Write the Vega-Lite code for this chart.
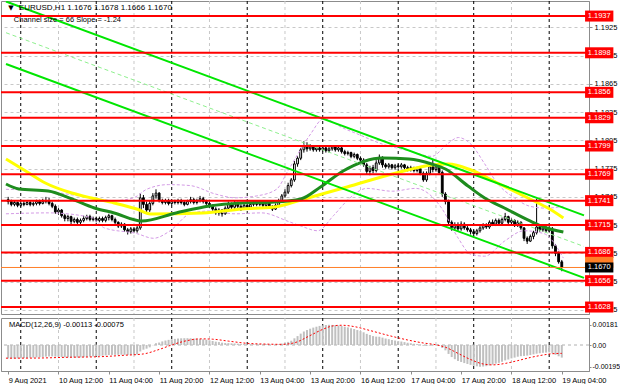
{
"$schema":"https://vega.github.io/schema/vega-lite/v6.json",
"padding":0,
"autosize":{"type":"pad"},
"background":"white",
"spacing":4,
"bounds":"flush",
"config":{"view":{"stroke":"#8c8c8c","strokeWidth":1},"font":"Liberation Sans","text":{"font":"Liberation Sans"}},
"datasets":{
"one":[{"n":1}],
"days":[{"i":0},{"i":24},{"i":48},{"i":72},{"i":96},{"i":120},{"i":144},{"i":168}],
"half":[{"i":12},{"i":36},{"i":60},{"i":84},{"i":108},{"i":132},{"i":156}],
"levels":[{"p":1.1937},{"p":1.1898},{"p":1.1856},{"p":1.1829},{"p":1.1799},{"p":1.1769},{"p":1.1741},{"p":1.1715},{"p":1.1686},{"p":1.1656},{"p":1.1628}],
"chan":[{"k":"up","i":-4.6875,"p":1.19525},{"k":"up","i":179.0625,"p":1.17254},{"k":"lo","i":-4.6875,"p":1.18861},{"k":"lo","i":179.0625,"p":1.1659}],
"chanmid":[{"i":-4.6875,"p":1.19193},{"i":179.0625,"p":1.16923}],
"maY":[{"i":-4.69,"p":1.17852},{"i":1.56,"p":1.17725},{"i":7.81,"p":1.17597},{"i":16.25,"p":1.17491},{"i":22.5,"p":1.17438},{"i":29.69,"p":1.17385},{"i":36.88,"p":1.17321},{"i":41.25,"p":1.17268},{"i":57.81,"p":1.17279},{"i":70.31,"p":1.17321},{"i":80.63,"p":1.17342},{"i":89.06,"p":1.17417},{"i":103.75,"p":1.17555},{"i":119.38,"p":1.17703},{"i":130.63,"p":1.17788},{"i":135.94,"p":1.17799},{"i":143.13,"p":1.17735},{"i":151.56,"p":1.17597},{"i":161.88,"p":1.17427},{"i":168.13,"p":1.17321},{"i":172.5,"p":1.17226}],
"maG":[{"i":-4.69,"p":1.17587},{"i":-0.63,"p":1.17534},{"i":8.75,"p":1.17512},{"i":16.25,"p":1.17427},{"i":23.44,"p":1.17332},{"i":29.69,"p":1.17279},{"i":38.44,"p":1.17194},{"i":49.38,"p":1.17279},{"i":60,"p":1.17353},{"i":70.31,"p":1.17385},{"i":80.63,"p":1.17395},{"i":89.06,"p":1.17427},{"i":95.31,"p":1.17555},{"i":102.5,"p":1.17725},{"i":115,"p":1.17863},{"i":123.44,"p":1.17852},{"i":130.63,"p":1.17799},{"i":135,"p":1.17746},{"i":142.19,"p":1.17565},{"i":147.5,"p":1.17438},{"i":153.75,"p":1.17332},{"i":161.88,"p":1.17194},{"i":166.25,"p":1.1713},{"i":172.5,"p":1.17077}],
"bb":[{"k":"u","i":-4.7,"p":1.1753},{"k":"u","i":7.8,"p":1.1751},{"k":"u","i":22.5,"p":1.1744},{"k":"u","i":29.7,"p":1.1741},{"k":"u","i":35.9,"p":1.1744},{"k":"u","i":40,"p":1.1753},{"k":"u","i":46.9,"p":1.1758},{"k":"u","i":53.8,"p":1.1757},{"k":"u","i":61.9,"p":1.1748},{"k":"u","i":68.1,"p":1.1744},{"k":"u","i":75,"p":1.1746},{"k":"u","i":81.3,"p":1.1753},{"k":"u","i":85,"p":1.1773},{"k":"u","i":89.1,"p":1.1796},{"k":"u","i":92.2,"p":1.1812},{"k":"u","i":96.3,"p":1.1828},{"k":"u","i":102.5,"p":1.1818},{"k":"u","i":106.9,"p":1.1812},{"k":"u","i":115,"p":1.1801},{"k":"u","i":123.4,"p":1.1794},{"k":"u","i":130.6,"p":1.1788},{"k":"u","i":135.9,"p":1.1802},{"k":"u","i":139.1,"p":1.1808},{"k":"u","i":143.1,"p":1.1801},{"k":"u","i":147.5,"p":1.178},{"k":"u","i":151.6,"p":1.1759},{"k":"u","i":156.9,"p":1.1744},{"k":"u","i":161.9,"p":1.1735},{"k":"u","i":167.2,"p":1.1733},{"k":"u","i":172.5,"p":1.1735},
{"k":"l","i":-4.7,"p":1.1727},{"k":"l","i":8.8,"p":1.1728},{"k":"l","i":22.5,"p":1.1723},{"k":"l","i":26.6,"p":1.1712},{"k":"l","i":36.9,"p":1.1706},{"k":"l","i":42.2,"p":1.1701},{"k":"l","i":47.5,"p":1.1709},{"k":"l","i":53.8,"p":1.1727},{"k":"l","i":60,"p":1.173},{"k":"l","i":68.1,"p":1.1727},{"k":"l","i":76.6,"p":1.1728},{"k":"l","i":85,"p":1.1719},{"k":"l","i":89.1,"p":1.1714},{"k":"l","i":94.4,"p":1.1709},{"k":"l","i":99.4,"p":1.1725},{"k":"l","i":104.7,"p":1.1744},{"k":"l","i":110,"p":1.1754},{"k":"l","i":118.1,"p":1.1751},{"k":"l","i":125.6,"p":1.1754},{"k":"l","i":133.8,"p":1.1733},{"k":"l","i":139.1,"p":1.1701},{"k":"l","i":143.1,"p":1.1684},{"k":"l","i":147.5,"p":1.1682},{"k":"l","i":153.8,"p":1.1698},{"k":"l","i":160,"p":1.1709},{"k":"l","i":166.3,"p":1.1706},{"k":"l","i":172.5,"p":1.168}],
"sig":[{"i":-4.7,"s":-0.00118},{"i":5,"s":-0.00117},{"i":15,"s":-0.0011},{"i":25,"s":-0.00105},{"i":33,"s":-0.00092},{"i":39,"s":-0.0008},{"i":44,"s":-0.0004},{"i":49,"s":0.0001},{"i":53,"s":0.0004},{"i":57,"s":0.00055},{"i":61,"s":0.00052},{"i":66,"s":0.00035},{"i":72,"s":0.00015},{"i":78,"s":0.00008},{"i":83,"s":0.00006},{"i":87,"s":0.0002},{"i":92,"s":0.00085},{"i":96,"s":0.0014},{"i":99,"s":0.0017},{"i":102,"s":0.00177},{"i":106,"s":0.00165},{"i":111,"s":0.0013},{"i":117,"s":0.00085},{"i":123,"s":0.00045},{"i":128,"s":0.00018},{"i":132,"s":0.00002},{"i":135,"s":-0.0002},{"i":139,"s":-0.00075},{"i":143,"s":-0.0013},{"i":147,"s":-0.0017},{"i":150,"s":-0.00178},{"i":154,"s":-0.00165},{"i":158,"s":-0.0014},{"i":162,"s":-0.00112},{"i":166,"s":-0.0009},{"i":169,"s":-0.00078},{"i":172,"s":-0.00075}],
"bars":[
{"i":-4,"o":1.1742,"h":1.1745,"l":1.1737,"c":1.174,"m":-0.0012},
{"i":-3,"o":1.174,"h":1.1742,"l":1.1735,"c":1.1737,"m":-0.00121},
{"i":-2,"o":1.1737,"h":1.1741,"l":1.1735,"c":1.1739,"m":-0.00121},
{"i":-1,"o":1.1739,"h":1.174,"l":1.1734,"c":1.1736,"m":-0.0012},
{"i":0,"o":1.1736,"h":1.174,"l":1.1734,"c":1.1738,"m":-0.00119},
{"i":1,"o":1.1738,"h":1.1741,"l":1.1735,"c":1.1737,"m":-0.00117},
{"i":2,"o":1.1737,"h":1.1741,"l":1.1736,"c":1.1739,"m":-0.00116},
{"i":3,"o":1.1739,"h":1.1741,"l":1.1735,"c":1.1737,"m":-0.00114},
{"i":4,"o":1.1737,"h":1.174,"l":1.1735,"c":1.1738,"m":-0.00113},
{"i":5,"o":1.1738,"h":1.1742,"l":1.1736,"c":1.174,"m":-0.00111},
{"i":6,"o":1.174,"h":1.1742,"l":1.1736,"c":1.1738,"m":-0.00109},
{"i":7,"o":1.1738,"h":1.1743,"l":1.1737,"c":1.174,"m":-0.00107},
{"i":8,"o":1.174,"h":1.1745,"l":1.1738,"c":1.1741,"m":-0.00104},
{"i":9,"o":1.1741,"h":1.1744,"l":1.1736,"c":1.1738,"m":-0.00103},
{"i":10,"o":1.1738,"h":1.174,"l":1.1733,"c":1.1735,"m":-0.00102},
{"i":11,"o":1.1735,"h":1.1737,"l":1.1727,"c":1.1729,"m":-0.00104},
{"i":12,"o":1.1729,"h":1.1733,"l":1.1726,"c":1.1731,"m":-0.00105},
{"i":13,"o":1.1731,"h":1.1732,"l":1.1723,"c":1.1725,"m":-0.00107},
{"i":14,"o":1.1725,"h":1.1727,"l":1.1719,"c":1.1722,"m":-0.00109},
{"i":15,"o":1.1722,"h":1.1726,"l":1.1719,"c":1.1724,"m":-0.0011},
{"i":16,"o":1.1724,"h":1.1725,"l":1.1716,"c":1.1719,"m":-0.00112},
{"i":17,"o":1.1719,"h":1.1723,"l":1.1717,"c":1.1721,"m":-0.00112},
{"i":18,"o":1.1721,"h":1.1723,"l":1.1715,"c":1.1718,"m":-0.00112},
{"i":19,"o":1.1718,"h":1.1722,"l":1.1716,"c":1.172,"m":-0.00111},
{"i":20,"o":1.172,"h":1.1725,"l":1.1718,"c":1.1722,"m":-0.00109},
{"i":21,"o":1.1722,"h":1.1726,"l":1.172,"c":1.1724,"m":-0.00106},
{"i":22,"o":1.1724,"h":1.1726,"l":1.1719,"c":1.1721,"m":-0.00104},
{"i":23,"o":1.1721,"h":1.1724,"l":1.1719,"c":1.1722,"m":-0.00102},
{"i":24,"o":1.1722,"h":1.1724,"l":1.1718,"c":1.172,"m":-0.001},
{"i":25,"o":1.172,"h":1.1724,"l":1.1718,"c":1.1722,"m":-0.00098},
{"i":26,"o":1.1722,"h":1.1724,"l":1.1718,"c":1.172,"m":-0.00096},
{"i":27,"o":1.172,"h":1.1725,"l":1.1718,"c":1.1723,"m":-0.00093},
{"i":28,"o":1.1723,"h":1.1727,"l":1.172,"c":1.1725,"m":-0.0009},
{"i":29,"o":1.1725,"h":1.1726,"l":1.1719,"c":1.1721,"m":-0.00089},
{"i":30,"o":1.1721,"h":1.1723,"l":1.1716,"c":1.1718,"m":-0.00088},
{"i":31,"o":1.1718,"h":1.1719,"l":1.1712,"c":1.1714,"m":-0.00088},
{"i":32,"o":1.1714,"h":1.1718,"l":1.1712,"c":1.1716,"m":-0.00087},
{"i":33,"o":1.1716,"h":1.1717,"l":1.1708,"c":1.171,"m":-0.00088},
{"i":34,"o":1.171,"h":1.1712,"l":1.1705,"c":1.1708,"m":-0.00089},
{"i":35,"o":1.1708,"h":1.1713,"l":1.1706,"c":1.1711,"m":-0.00088},
{"i":36,"o":1.1711,"h":1.1713,"l":1.1707,"c":1.1709,"m":-0.00087},
{"i":37,"o":1.1709,"h":1.1714,"l":1.1707,"c":1.1712,"m":-0.00084},
{"i":38,"o":1.1712,"h":1.1749,"l":1.171,"c":1.1744,"m":-0.00058},
{"i":39,"o":1.1744,"h":1.1747,"l":1.1733,"c":1.1737,"m":-0.00042},
{"i":40,"o":1.1737,"h":1.174,"l":1.1728,"c":1.1731,"m":-0.00033},
{"i":41,"o":1.1731,"h":1.1741,"l":1.1729,"c":1.1738,"m":-0.00021},
{"i":42,"o":1.1738,"h":1.1749,"l":1.1736,"c":1.1746,"m":-0.00002},
{"i":43,"o":1.1746,"h":1.1753,"l":1.1743,"c":1.1749,"m":0.00016},
{"i":44,"o":1.1749,"h":1.175,"l":1.1739,"c":1.1741,"m":0.00022},
{"i":45,"o":1.1741,"h":1.1743,"l":1.1737,"c":1.1739,"m":0.00032},
{"i":46,"o":1.1739,"h":1.1743,"l":1.1737,"c":1.1741,"m":0.0004},
{"i":47,"o":1.1741,"h":1.1743,"l":1.1736,"c":1.1738,"m":0.00046},
{"i":48,"o":1.1738,"h":1.1742,"l":1.1736,"c":1.174,"m":0.00051},
{"i":49,"o":1.174,"h":1.1742,"l":1.1737,"c":1.1739,"m":0.00055},
{"i":50,"o":1.1739,"h":1.1743,"l":1.1737,"c":1.1741,"m":0.00058},
{"i":51,"o":1.1741,"h":1.1743,"l":1.1737,"c":1.1739,"m":0.0006},
{"i":52,"o":1.1739,"h":1.1741,"l":1.1735,"c":1.1737,"m":0.00061},
{"i":53,"o":1.1737,"h":1.1742,"l":1.1736,"c":1.174,"m":0.00061},
{"i":54,"o":1.174,"h":1.1745,"l":1.1738,"c":1.1742,"m":0.0006},
{"i":55,"o":1.1742,"h":1.1744,"l":1.1737,"c":1.1739,"m":0.00058},
{"i":56,"o":1.1739,"h":1.1743,"l":1.1737,"c":1.1741,"m":0.00056},
{"i":57,"o":1.1741,"h":1.1746,"l":1.1739,"c":1.1743,"m":0.00054},
{"i":58,"o":1.1743,"h":1.1745,"l":1.1738,"c":1.174,"m":0.00051},
{"i":59,"o":1.174,"h":1.1742,"l":1.1736,"c":1.1738,"m":0.00047},
{"i":60,"o":1.1738,"h":1.174,"l":1.1733,"c":1.1735,"m":0.00042},
{"i":61,"o":1.1735,"h":1.1737,"l":1.173,"c":1.1732,"m":0.00036},
{"i":62,"o":1.1732,"h":1.1734,"l":1.1726,"c":1.1728,"m":0.0003},
{"i":63,"o":1.1728,"h":1.1733,"l":1.1725,"c":1.1731,"m":0.00026},
{"i":64,"o":1.1731,"h":1.1732,"l":1.1724,"c":1.1727,"m":0.00021},
{"i":65,"o":1.1727,"h":1.1735,"l":1.1726,"c":1.1733,"m":0.00018},
{"i":66,"o":1.1733,"h":1.174,"l":1.1731,"c":1.1737,"m":0.00017},
{"i":67,"o":1.1737,"h":1.1739,"l":1.1732,"c":1.1734,"m":0.00015},
{"i":68,"o":1.1734,"h":1.1741,"l":1.1732,"c":1.1738,"m":0.00014},
{"i":69,"o":1.1738,"h":1.174,"l":1.1733,"c":1.1735,"m":0.00012},
{"i":70,"o":1.1735,"h":1.1737,"l":1.173,"c":1.1733,"m":0.00008},
{"i":71,"o":1.1733,"h":1.1738,"l":1.1731,"c":1.1736,"m":0.00008},
{"i":72,"o":1.1736,"h":1.1738,"l":1.1732,"c":1.1734,"m":0.00006},
{"i":73,"o":1.1734,"h":1.1739,"l":1.1732,"c":1.1737,"m":0.00006},
{"i":74,"o":1.1737,"h":1.1741,"l":1.1735,"c":1.1739,"m":0.00007},
{"i":75,"o":1.1739,"h":1.1741,"l":1.1735,"c":1.1737,"m":0.00007},
{"i":76,"o":1.1737,"h":1.1741,"l":1.1735,"c":1.1739,"m":0.00008},
{"i":77,"o":1.1739,"h":1.174,"l":1.1734,"c":1.1736,"m":0.00007},
{"i":78,"o":1.1736,"h":1.174,"l":1.1734,"c":1.1738,"m":0.00007},
{"i":79,"o":1.1738,"h":1.1739,"l":1.1733,"c":1.1735,"m":0.00005},
{"i":80,"o":1.1735,"h":1.1736,"l":1.173,"c":1.1732,"m":0.00002},
{"i":81,"o":1.1732,"h":1.1738,"l":1.1731,"c":1.1736,"m":0.00002},
{"i":82,"o":1.1736,"h":1.1743,"l":1.1734,"c":1.1741,"m":0.00006},
{"i":83,"o":1.1741,"h":1.1748,"l":1.1739,"c":1.1746,"m":0.00012},
{"i":84,"o":1.1746,"h":1.1753,"l":1.1744,"c":1.175,"m":0.00019},
{"i":85,"o":1.175,"h":1.176,"l":1.1748,"c":1.1757,"m":0.00028},
{"i":86,"o":1.1757,"h":1.1765,"l":1.1755,"c":1.1763,"m":0.00038},
{"i":87,"o":1.1763,"h":1.1783,"l":1.1761,"c":1.178,"m":0.0006},
{"i":88,"o":1.178,"h":1.1788,"l":1.1777,"c":1.1786,"m":0.0008},
{"i":89,"o":1.1786,"h":1.1797,"l":1.1784,"c":1.1795,"m":0.00102},
{"i":90,"o":1.1795,"h":1.1804,"l":1.1792,"c":1.1799,"m":0.00121},
{"i":91,"o":1.1799,"h":1.1803,"l":1.1793,"c":1.1796,"m":0.00134},
{"i":92,"o":1.1796,"h":1.1801,"l":1.1794,"c":1.1798,"m":0.00146},
{"i":93,"o":1.1798,"h":1.18,"l":1.1793,"c":1.1795,"m":0.00156},
{"i":94,"o":1.1795,"h":1.1799,"l":1.1793,"c":1.1797,"m":0.00164},
{"i":95,"o":1.1797,"h":1.1799,"l":1.1793,"c":1.1795,"m":0.00171},
{"i":96,"o":1.1795,"h":1.1799,"l":1.1793,"c":1.1797,"m":0.00176},
{"i":97,"o":1.1797,"h":1.1799,"l":1.1792,"c":1.1794,"m":0.00179},
{"i":98,"o":1.1794,"h":1.1798,"l":1.1792,"c":1.1796,"m":0.00181},
{"i":99,"o":1.1796,"h":1.18,"l":1.1794,"c":1.1798,"m":0.0018},
{"i":100,"o":1.1798,"h":1.18,"l":1.1793,"c":1.1795,"m":0.00178},
{"i":101,"o":1.1795,"h":1.1799,"l":1.1793,"c":1.1797,"m":0.00175},
{"i":102,"o":1.1797,"h":1.1798,"l":1.1791,"c":1.1793,"m":0.0017},
{"i":103,"o":1.1793,"h":1.1795,"l":1.1789,"c":1.1791,"m":0.00164},
{"i":104,"o":1.1791,"h":1.1794,"l":1.1789,"c":1.1792,"m":0.00158},
{"i":105,"o":1.1792,"h":1.1793,"l":1.1786,"c":1.1788,"m":0.0015},
{"i":106,"o":1.1788,"h":1.1792,"l":1.1786,"c":1.179,"m":0.00143},
{"i":107,"o":1.179,"h":1.1791,"l":1.1784,"c":1.1786,"m":0.00134},
{"i":108,"o":1.1786,"h":1.1788,"l":1.1782,"c":1.1784,"m":0.00125},
{"i":109,"o":1.1784,"h":1.1786,"l":1.1777,"c":1.1779,"m":0.00114},
{"i":110,"o":1.1779,"h":1.1781,"l":1.1769,"c":1.1772,"m":0.001},
{"i":111,"o":1.1772,"h":1.1778,"l":1.1768,"c":1.1776,"m":0.0009},
{"i":112,"o":1.1776,"h":1.1779,"l":1.177,"c":1.1773,"m":0.0008},
{"i":113,"o":1.1773,"h":1.1784,"l":1.1771,"c":1.1781,"m":0.00075},
{"i":114,"o":1.1781,"h":1.179,"l":1.1779,"c":1.1787,"m":0.00074},
{"i":115,"o":1.1787,"h":1.1788,"l":1.1776,"c":1.1779,"m":0.00066},
{"i":116,"o":1.1779,"h":1.1781,"l":1.1775,"c":1.1777,"m":0.00058},
{"i":117,"o":1.1777,"h":1.1781,"l":1.1775,"c":1.1779,"m":0.00052},
{"i":118,"o":1.1779,"h":1.178,"l":1.1774,"c":1.1776,"m":0.00045},
{"i":119,"o":1.1776,"h":1.178,"l":1.1774,"c":1.1778,"m":0.0004},
{"i":120,"o":1.1778,"h":1.178,"l":1.1775,"c":1.1777,"m":0.00035},
{"i":121,"o":1.1777,"h":1.1781,"l":1.1775,"c":1.1779,"m":0.00031},
{"i":122,"o":1.1779,"h":1.178,"l":1.1774,"c":1.1776,"m":0.00026},
{"i":123,"o":1.1776,"h":1.1778,"l":1.1772,"c":1.1774,"m":0.0002},
{"i":124,"o":1.1774,"h":1.1778,"l":1.1772,"c":1.1776,"m":0.00016},
{"i":125,"o":1.1776,"h":1.1777,"l":1.1771,"c":1.1773,"m":0.00011},
{"i":126,"o":1.1773,"h":1.1777,"l":1.1771,"c":1.1775,"m":0.00008},
{"i":127,"o":1.1775,"h":1.1777,"l":1.1768,"c":1.177,"m":0.00002},
{"i":128,"o":1.177,"h":1.1772,"l":1.1761,"c":1.1763,"m":-0.00007},
{"i":129,"o":1.1763,"h":1.1772,"l":1.1761,"c":1.177,"m":-0.00009},
{"i":130,"o":1.177,"h":1.1779,"l":1.1768,"c":1.1777,"m":-0.00005},
{"i":131,"o":1.1777,"h":1.1785,"l":1.1771,"c":1.1774,"m":-0.00004},
{"i":132,"o":1.1774,"h":1.1779,"l":1.1772,"c":1.1777,"m":-0.00002},
{"i":133,"o":1.1777,"h":1.1779,"l":1.1769,"c":1.1771,"m":-0.00006},
{"i":134,"o":1.1771,"h":1.1773,"l":1.1745,"c":1.1748,"m":-0.00027},
{"i":135,"o":1.1748,"h":1.175,"l":1.1737,"c":1.174,"m":-0.00048},
{"i":136,"o":1.174,"h":1.1742,"l":1.1715,"c":1.1718,"m":-0.0008},
{"i":137,"o":1.1718,"h":1.172,"l":1.1709,"c":1.1712,"m":-0.00108},
{"i":138,"o":1.1712,"h":1.1718,"l":1.1709,"c":1.1715,"m":-0.00127},
{"i":139,"o":1.1715,"h":1.1718,"l":1.1708,"c":1.1711,"m":-0.00143},
{"i":140,"o":1.1711,"h":1.1719,"l":1.1709,"c":1.1716,"m":-0.00152},
{"i":141,"o":1.1716,"h":1.1718,"l":1.171,"c":1.1712,"m":-0.00162},
{"i":142,"o":1.1712,"h":1.1714,"l":1.1708,"c":1.171,"m":-0.0017},
{"i":143,"o":1.171,"h":1.1712,"l":1.1705,"c":1.1708,"m":-0.00178},
{"i":144,"o":1.1708,"h":1.171,"l":1.1704,"c":1.1706,"m":-0.00186},
{"i":145,"o":1.1706,"h":1.1711,"l":1.1704,"c":1.1709,"m":-0.00191},
{"i":146,"o":1.1709,"h":1.1714,"l":1.1707,"c":1.1712,"m":-0.00195},
{"i":147,"o":1.1712,"h":1.1717,"l":1.171,"c":1.1715,"m":-0.00193},
{"i":148,"o":1.1715,"h":1.1717,"l":1.1711,"c":1.1713,"m":-0.0019},
{"i":149,"o":1.1713,"h":1.172,"l":1.1711,"c":1.1718,"m":-0.00183},
{"i":150,"o":1.1718,"h":1.1721,"l":1.1714,"c":1.1716,"m":-0.00176},
{"i":151,"o":1.1716,"h":1.1722,"l":1.1714,"c":1.172,"m":-0.00167},
{"i":152,"o":1.172,"h":1.1722,"l":1.1715,"c":1.1717,"m":-0.0016},
{"i":153,"o":1.1717,"h":1.1723,"l":1.1715,"c":1.1721,"m":-0.0015},
{"i":154,"o":1.1721,"h":1.1728,"l":1.1719,"c":1.1724,"m":-0.00138},
{"i":155,"o":1.1724,"h":1.1725,"l":1.1716,"c":1.1718,"m":-0.0013},
{"i":156,"o":1.1718,"h":1.1722,"l":1.1716,"c":1.172,"m":-0.0012},
{"i":157,"o":1.172,"h":1.1721,"l":1.1713,"c":1.1715,"m":-0.00113},
{"i":158,"o":1.1715,"h":1.172,"l":1.1713,"c":1.1718,"m":-0.00105},
{"i":159,"o":1.1718,"h":1.1719,"l":1.171,"c":1.1712,"m":-0.001},
{"i":160,"o":1.1712,"h":1.1713,"l":1.1698,"c":1.1701,"m":-0.00098},
{"i":161,"o":1.1701,"h":1.1703,"l":1.1695,"c":1.1698,"m":-0.00095},
{"i":162,"o":1.1698,"h":1.1705,"l":1.1697,"c":1.1703,"m":-0.0009},
{"i":163,"o":1.1703,"h":1.1709,"l":1.17,"c":1.1707,"m":-0.00084},
{"i":164,"o":1.1707,"h":1.1743,"l":1.1705,"c":1.1713,"m":-0.00078},
{"i":165,"o":1.1713,"h":1.1715,"l":1.1708,"c":1.171,"m":-0.00074},
{"i":166,"o":1.171,"h":1.1714,"l":1.1708,"c":1.1712,"m":-0.0007},
{"i":167,"o":1.1712,"h":1.1714,"l":1.1707,"c":1.1709,"m":-0.00068},
{"i":168,"o":1.1709,"h":1.1714,"l":1.1707,"c":1.1711,"m":-0.00066},
{"i":169,"o":1.1711,"h":1.1713,"l":1.169,"c":1.1693,"m":-0.00075},
{"i":170,"o":1.1693,"h":1.1695,"l":1.1682,"c":1.1685,"m":-0.00088},
{"i":171,"o":1.1685,"h":1.1687,"l":1.1674,"c":1.1676,"m":-0.00101},
{"i":172,"o":1.1676,"h":1.1678,"l":1.1666,"c":1.167,"m":-0.00113}
]},
"vconcat":[
{"width":588,"height":313,
"resolve":{"axis":{"x":"independent","y":"independent"}},
"layer":[
{"data":{"name":"half"},"mark":{"type":"rule","color":"#c8c8c8","strokeDash":[3,3],"strokeWidth":1,"clip":true},
 "encoding":{"x":{"field":"i","type":"quantitative","scale":{"domain":[-4.6875,179.0625],"nice":false,"zero":false},"axis":null}}},
{"data":{"name":"days"},"mark":{"type":"rule","color":"#000000","strokeDash":[3,3],"strokeWidth":1,"clip":true},
 "encoding":{"x":{"field":"i","type":"quantitative","axis":null}}},
{"data":{"name":"bars"},"mark":{"type":"rule","color":"#000000","strokeWidth":1},
 "encoding":{"x":{"field":"i","type":"quantitative","axis":null},
  "y":{"field":"l","type":"quantitative","title":null,"scale":{"domain":[1.16206,1.1953],"nice":false,"zero":false},
   "axis":{"orient":"right","title":null,"zindex":0,"values":[1.1625,1.1655,1.1685,1.1715,1.1745,1.1775,1.1805,1.1835,1.1865,1.1895,1.1925],"format":".4f","grid":true,"gridColor":"#c8c8c8","gridDash":[3,3],"domainColor":"#8c8c8c","tickColor":"#8c8c8c","tickSize":3,"labelFontSize":7.5,"labelColor":"#000000","labelPadding":2,"labelFont":"Liberation Sans","labelOverlap":false}},
  "y2":{"field":"h"}}},
{"data":{"name":"bars"},"mark":{"type":"bar","size":1.8,"stroke":"#000000","strokeWidth":1},
 "encoding":{"x":{"field":"i","type":"quantitative","axis":null},"y":{"field":"o","type":"quantitative","axis":null},"y2":{"field":"c"},
  "fill":{"condition":{"test":"datum.c >= datum.o","value":"#ffffff"},"value":"#000000"}}},
{"data":{"name":"bb"},"mark":{"type":"line","color":"#d49be6","strokeDash":[3,2],"strokeWidth":1,"interpolate":"monotone","clip":true},
 "encoding":{"x":{"field":"i","type":"quantitative","axis":null},"y":{"field":"p","type":"quantitative","axis":null},"detail":{"field":"k"}}},
{"data":{"name":"maY"},"mark":{"type":"line","color":"#ffff00","strokeWidth":3,"interpolate":"monotone","clip":true},
 "encoding":{"x":{"field":"i","type":"quantitative","axis":null},"y":{"field":"p","type":"quantitative","axis":null}}},
{"data":{"name":"maG"},"mark":{"type":"line","color":"#1e8c1e","strokeWidth":3,"interpolate":"monotone","clip":true},
 "encoding":{"x":{"field":"i","type":"quantitative","axis":null},"y":{"field":"p","type":"quantitative","axis":null}}},
{"data":{"name":"chan"},"mark":{"type":"line","color":"#00e600","strokeWidth":2,"clip":true},
 "encoding":{"x":{"field":"i","type":"quantitative","axis":null},"y":{"field":"p","type":"quantitative","axis":null},"detail":{"field":"k"}}},
{"data":{"name":"chanmid"},"mark":{"type":"line","color":"#8ef08e","strokeWidth":1,"strokeDash":[4,3],"clip":true},
 "encoding":{"x":{"field":"i","type":"quantitative","axis":null},"y":{"field":"p","type":"quantitative","axis":null}}},
{"data":{"name":"levels"},"mark":{"type":"rule","color":"#ff0000","strokeWidth":2,"clip":true},
 "encoding":{"y":{"field":"p","type":"quantitative","axis":null}}},
{"data":{"name":"one"},"mark":{"type":"rule","color":"#ff7f27","strokeWidth":1,"clip":true},"encoding":{"y":{"datum":1.167,"type":"quantitative","axis":null}}},
{"data":{"name":"levels"},"mark":{"type":"rule","color":"#ff0000","strokeWidth":11,"strokeCap":"butt"},
 "encoding":{"x":{"datum":179.4,"type":"quantitative","axis":null},"x2":{"datum":188.4},"y":{"field":"p","type":"quantitative","axis":null}}},
{"data":{"name":"levels"},"mark":{"type":"text","color":"#ffffff","fontSize":7.5,"align":"center","baseline":"middle","font":"Liberation Sans"},
 "encoding":{"x":{"datum":183.9,"type":"quantitative","axis":null},"y":{"field":"p","type":"quantitative","axis":null},"text":{"field":"p","type":"quantitative","format":".4f"}}},
{"data":{"name":"one"},"mark":{"type":"rule","color":"#ff7f27","strokeWidth":11,"strokeCap":"butt"},"encoding":{"x":{"datum":179.4,"type":"quantitative","axis":null},"x2":{"datum":188.4},"y":{"datum":1.16755,"type":"quantitative","axis":null}}},
{"data":{"name":"one"},"mark":{"type":"rule","color":"#000000","strokeWidth":10,"strokeCap":"butt"},"encoding":{"x":{"datum":179.4,"type":"quantitative","axis":null},"x2":{"datum":188.4},"y":{"datum":1.167,"type":"quantitative","axis":null}}},
{"data":{"name":"one"},"mark":{"type":"text","color":"#ffffff","fontSize":7.5,"align":"center","baseline":"middle","font":"Liberation Sans"},"encoding":{"x":{"datum":183.9,"type":"quantitative","axis":null},"y":{"datum":1.167,"type":"quantitative","axis":null},"text":{"value":"1.1670"}}},
{"data":{"name":"one"},"mark":{"type":"text","color":"#000000","fontSize":7,"align":"left","baseline":"middle","font":"DejaVu Sans"},"encoding":{"x":{"datum":-4.0,"type":"quantitative","axis":null},"y":{"datum":1.19456,"type":"quantitative","axis":null},"text":{"value":"▼"}}},
{"data":{"name":"one"},"mark":{"type":"text","color":"#000000","fontSize":8,"align":"left","baseline":"middle","font":"Liberation Sans"},"encoding":{"x":{"datum":-0.6,"type":"quantitative","axis":null},"y":{"datum":1.19456,"type":"quantitative","axis":null},"text":{"value":"EURUSD,H1  1.1676  1.1678  1.1666  1.1670"}}},
{"data":{"name":"one"},"mark":{"type":"text","color":"#000000","fontSize":7.5,"align":"left","baseline":"middle","font":"Liberation Sans"},"encoding":{"x":{"datum":-2.2,"type":"quantitative","axis":null},"y":{"datum":1.19328,"type":"quantitative","axis":null},"text":{"value":"Channel size = 66 Slope = -1.24"}}}
]},
{"width":588,"height":53,
"resolve":{"axis":{"x":"independent","y":"independent"}},
"layer":[
{"data":{"name":"half"},"mark":{"type":"rule","color":"#c8c8c8","strokeDash":[3,3],"strokeWidth":1,"clip":true},
 "encoding":{"x":{"field":"i","type":"quantitative","scale":{"domain":[-4.6875,179.0625],"nice":false,"zero":false},"axis":null}}},
{"data":{"name":"days"},"mark":{"type":"rule","color":"#000000","strokeDash":[3,3],"strokeWidth":1,"clip":true},
 "encoding":{"x":{"field":"i","type":"quantitative","axis":null}}},
{"data":{"name":"one"},"mark":{"type":"rule","color":"#b0b0b0","strokeDash":[3,3],"strokeWidth":1,"clip":true},"encoding":{"y":{"datum":0,"type":"quantitative","scale":{"domain":[-0.00233,0.00242],"nice":false,"zero":false},"axis":null}}},
{"data":{"name":"bars"},"mark":{"type":"bar","color":"#c0c0c0","size":2},
 "encoding":{"x":{"field":"i","type":"quantitative","title":null,
   "axis":{"orient":"bottom","title":null,"zindex":0,"values":[-4,12,28,44,60,76,92,108,124,140,156,172],
    "labelExpr":"{'-4':'9 Aug 2021','12':'10 Aug 12:00','28':'11 Aug 04:00','44':'11 Aug 20:00','60':'12 Aug 12:00','76':'13 Aug 04:00','92':'13 Aug 20:00','108':'16 Aug 12:00','124':'17 Aug 04:00','140':'17 Aug 20:00','156':'18 Aug 12:00','172':'19 Aug 04:00'}[datum.value]",
    "labelAlign":"left","labelFontSize":7.5,"labelFont":"Liberation Sans","labelColor":"#000000","labelPadding":2,"tickSize":3,"tickColor":"#8c8c8c","domainColor":"#8c8c8c","grid":false,"labelOverlap":false,"labelFlush":false}},
  "y":{"field":"m","type":"quantitative","title":null,
   "axis":{"orient":"right","title":null,"zindex":0,"values":[-0.00195,0,0.00181],"labelExpr":"datum.value == 0 ? '0.00' : (datum.value < 0 ? '-' + format(-datum.value, '.5f') : format(datum.value, '.5f'))","grid":false,"tickSize":2,"tickColor":"#8c8c8c","domainColor":"#8c8c8c","labelFontSize":7,"labelFont":"Liberation Sans","labelColor":"#000000","labelPadding":1,"labelOverlap":false}},
  "y2":{"datum":0}}},
{"data":{"name":"sig"},"mark":{"type":"line","color":"#ff0000","strokeDash":[2,2],"strokeWidth":1,"interpolate":"monotone","clip":true},
 "encoding":{"x":{"field":"i","type":"quantitative","axis":null},"y":{"field":"s","type":"quantitative","axis":null}}},
{"data":{"name":"one"},"mark":{"type":"text","color":"#000000","fontSize":7.5,"align":"left","baseline":"middle","font":"Liberation Sans"},"encoding":{"x":{"datum":-3.75,"type":"quantitative","axis":null},"y":{"datum":0.00179,"type":"quantitative","axis":null},"text":{"value":"MACD(12,26,9) -0.00113 -0.00075"}}}
]}
]
}
